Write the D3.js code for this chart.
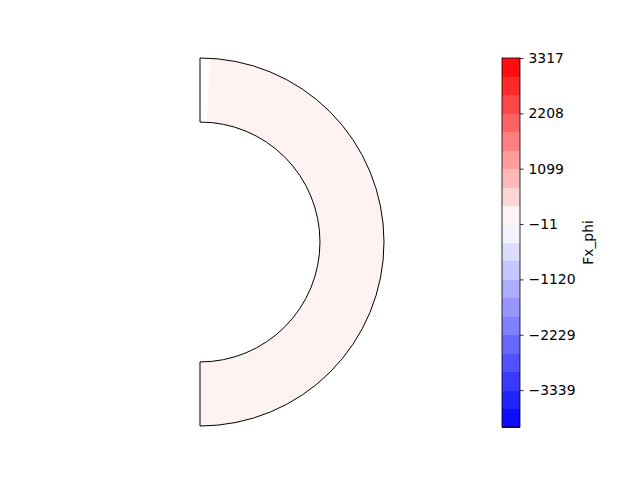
<!DOCTYPE html>
<html>
<head>
<meta charset="utf-8">
<script src="https://cdn.jsdelivr.net/npm/d3@7"></script>
<style>
  body { margin: 0; background: #fff; }
  svg { font-family: "DejaVu Sans", sans-serif; }
</style>
</head>
<body>
<div id="chart"></div>
<script>
// --- Data ---
const levels = [-4078, -3709, -3339, -2969, -2599, -2229, -1860, -1490, -1120, -750,
                -380, -11, 359, 729, 1099, 1468, 1838, 2208, 2578, 2947, 3317];
const tickValues = [3317, 2208, 1099, -11, -1120, -2229, -3339];
const tickLabels = ["3317", "2208", "1099", "\u221211", "\u22121120", "\u22122229", "\u22123339"];
const fieldValue = 170;          // Fx_phi across the ring
const ringRadii = [0.652, 1.0];  // inner, outer (data units)
const outlineAngles = [-90, 90]; // degrees from +x axis
const fillAngles = [-90, 86.8];  // triangulated fill leaves a gap at the top
const cbarLabel = "Fx_phi";

const width = 640, height = 480;
const fontSize = 13.9;
const svg = d3.select("#chart").append("svg")
    .attr("width", width)
    .attr("height", height);

// --- Ring plot ---
const x = d3.scaleLinear().domain([0, 1]).range([200, 384]);
const y = d3.scaleLinear().domain([-1, 1]).range([426, 58]);
const cx = x(0), cy = y(0);

const vmin = d3.min(levels), vmax = d3.max(levels);
const color = d3.scaleLinear()
    .domain([vmin, 0, vmax])
    .range(["#0000ff", "#ffffff", "#ff0000"]);

const bands = d3.pairs(levels).map(([lo, hi]) => ({ lo, hi, c: color((lo + hi) / 2) }));
const band = bands.find(b => fieldValue >= b.lo && fieldValue < b.hi);

// d3.arc measures angles clockwise from 12 o'clock
const toArc = deg => (90 - deg) * Math.PI / 180;
const rIn = x(ringRadii[0]) - cx, rOut = x(ringRadii[1]) - cx;

const g = svg.append("g").attr("transform", `translate(${cx},${cy})`);

g.append("path")
    .attr("d", d3.arc()
        .innerRadius(rIn).outerRadius(rOut)
        .startAngle(toArc(fillAngles[1])).endAngle(toArc(fillAngles[0]))())
    .attr("fill", band.c);

g.append("path")
    .attr("d", d3.arc()
        .innerRadius(rIn).outerRadius(rOut)
        .startAngle(toArc(outlineAngles[1])).endAngle(toArc(outlineAngles[0]))())
    .attr("fill", "none")
    .attr("stroke", "#000")
    .attr("stroke-width", 1);

// --- Colorbar ---
const cbX = 502, cbW = 18;
const cy2 = d3.scaleLinear().domain([vmin, vmax]).range([427, 58]);

const cb = svg.append("g");
cb.selectAll("rect")
    .data(bands)
    .join("rect")
    .attr("x", cbX)
    .attr("width", cbW)
    .attr("y", d => cy2(d.hi))
    .attr("height", d => cy2(d.lo) - cy2(d.hi) + 0.5)
    .attr("fill", d => d.c)
    .attr("shape-rendering", "crispEdges");

cb.append("rect")
    .attr("x", cbX)
    .attr("y", cy2(vmax))
    .attr("width", cbW)
    .attr("height", cy2(vmin) - cy2(vmax))
    .attr("fill", "none")
    .attr("stroke", "#000")
    .attr("stroke-width", 0.8);

const axis = cb.append("g")
    .attr("transform", `translate(${cbX + cbW},0)`)
    .call(d3.axisRight(cy2)
        .tickValues(tickValues)
        .tickFormat((d, i) => tickLabels[i])
        .tickSize(3.5)
        .tickPadding(5));
axis.select(".domain").remove();
axis.selectAll("line").attr("stroke", "#000").attr("stroke-width", 0.8);
axis.selectAll("text").attr("font-size", fontSize).attr("fill", "#000")
    .attr("font-family", "DejaVu Sans, sans-serif");

svg.append("text")
    .attr("transform", `translate(593,${(cy2(vmin) + cy2(vmax)) / 2}) rotate(-90)`)
    .attr("text-anchor", "middle")
    .attr("font-size", fontSize)
    .attr("fill", "#000")
    .text(cbarLabel);
</script>
</body>
</html>
